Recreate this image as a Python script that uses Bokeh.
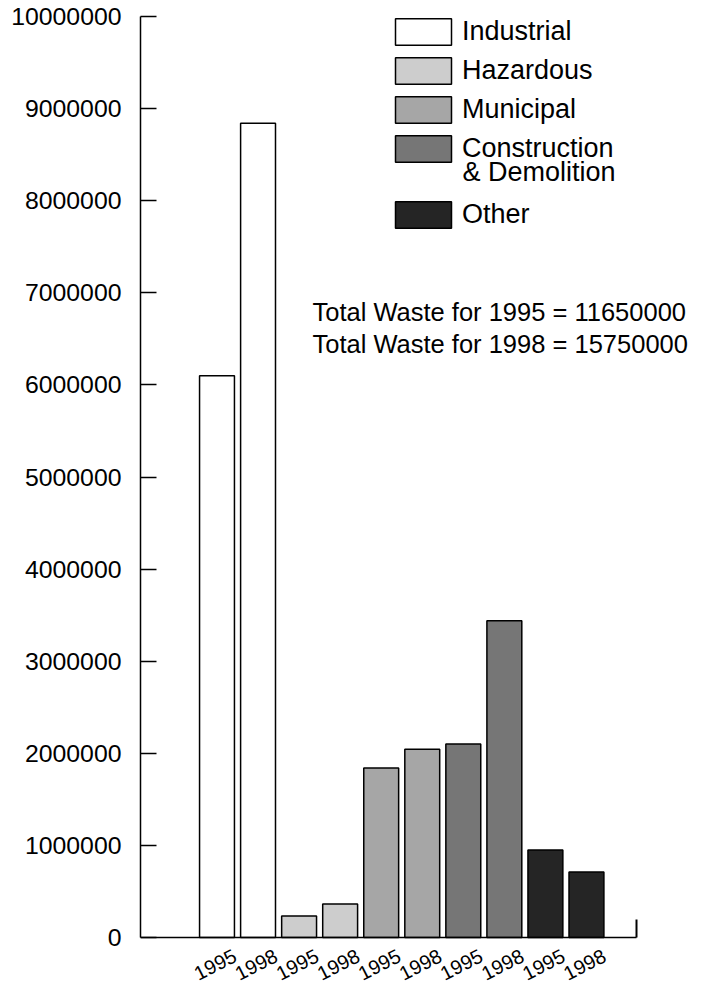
import numpy as np
from bokeh.plotting import figure
from bokeh.models import (ColumnDataSource, FixedTicker, LinearAxis, Range1d, Legend,
                          LegendItem, Label, BasicTickFormatter)
from bokeh.embed import file_html
from bokeh.resources import INLINE

# ---- data ----
categories = ["Industrial", "Hazardous", "Municipal", "Construction", "Other"]
category_extra_line = "& Demolition"
years = ["1995", "1998"]
values_1995 = [6100000, 233000, 1840000, 2100000, 950000]
values_1998 = [8840000, 364000, 2045000, 3440000, 710000]
colors = ["#ffffff", "#cdcdcd", "#a6a6a6", "#767676", "#252525"]
y_ticks = list(range(0, 10000001, 1000000))
total_1995 = 11650000
total_1998 = 15750000

FONT = "Liberation Sans"
X0 = -1.8636          # left end of the x range (data units)
X1 = 11.827           # right end of the x range
AXIS_END = 10.22      # where the horizontal axis line stops
Y_TOP = 10000000      # top of the value axis
Y1 = 10065150         # head room above it for the legend
Y0 = -521170          # room under the baseline for the slanted year labels

p = figure(width=702, height=985, output_backend="svg", toolbar_location=None,
           x_range=Range1d(X0, X1), y_range=Range1d(Y0, Y1),
           min_border_left=140, min_border_right=0, min_border_top=10, min_border_bottom=0)
p.outline_line_color = None
p.xgrid.visible = False
p.ygrid.visible = False
p.background_fill_color = "white"
p.border_fill_color = "white"

renderers = []
for k, cat in enumerate(categories):
    src = ColumnDataSource(dict(x=[2 * k, 2 * k + 1],
                                top=[values_1995[k], values_1998[k]]))
    r = p.vbar(x="x", top="top", bottom=0, width=0.85, source=src,
               fill_color=colors[k], line_color="black", line_width=1.5)
    renderers.append(r)

# y axis
ya = p.yaxis[0]
ya.bounds = (0, Y_TOP)
ya.ticker = FixedTicker(ticks=y_ticks)
ya.formatter = BasicTickFormatter(use_scientific=False)
ya.major_tick_in = 16
ya.major_tick_out = 0
ya.minor_tick_line_color = None
ya.axis_line_width = 1.5
ya.major_tick_line_width = 1.5
ya.major_label_text_font = FONT
ya.major_label_text_font_size = "24.8px"
ya.major_label_text_color = "black"
ya.major_label_standoff = 19

# x axis, drawn at y = 0
tick_pos = [i + 0.44 for i in range(2 * len(categories))]
tick_lab = [years[i % 2] for i in range(2 * len(categories))]
xa = p.xaxis[0]
xa.fixed_location = 0
xa.bounds = (X0, AXIS_END)
xa.ticker = FixedTicker(ticks=tick_pos)
xa.major_label_overrides = {t: l for t, l in zip(tick_pos, tick_lab)}
xa.major_tick_line_color = None
xa.major_tick_out = 0
xa.major_tick_in = 0
xa.minor_tick_line_color = None
xa.axis_line_width = 1.5
xa.major_label_orientation = 0.47
xa.major_label_text_font = FONT
xa.major_label_text_font_size = "20px"
xa.major_label_text_color = "black"
xa.major_label_standoff = 17

# small end mark at the right end of the horizontal axis
ra = LinearAxis(fixed_location=AXIS_END, bounds=(0, 195000), ticker=FixedTicker(ticks=[]),
                axis_line_width=2, major_tick_line_color=None,
                minor_tick_line_color=None, major_label_text_font_size="0px")
p.add_layout(ra, "right")

# legend (two blocks so that the two-line entry keeps its box at the top)
common = dict(glyph_width=70, glyph_height=33, label_standoff=4, spacing=6, padding=0,
              margin=0, border_line_color=None, background_fill_alpha=0,
              label_text_font=FONT, label_text_font_size="27px", label_text_color="black")
items_a = [LegendItem(label=c, renderers=[r], index=0)
           for c, r in zip(categories[:4], renderers[:4])]
legend_a = Legend(items=items_a, location=(248, 820), **common)
p.add_layout(legend_a, "center")
legend_b = Legend(items=[LegendItem(label=categories[4], renderers=[renderers[4]], index=0)],
                  location=(248, 754), **common)
p.add_layout(legend_b, "center")
p.add_layout(Label(x=5.98, y=8307000, text=category_extra_line, text_font=FONT,
                   text_font_size="27px", text_baseline="alphabetic", text_color="black"))

for txt, yv in [(f"Total Waste for 1995 = {total_1995}", 6787000),
                (f"Total Waste for 1998 = {total_1998}", 6439000)]:
    p.add_layout(Label(x=2.326, y=yv, text=txt, text_font=FONT, text_font_size="25.5px",
                       text_baseline="alphabetic", text_color="black"))

open("out.html", "w").write(file_html(p, INLINE))
